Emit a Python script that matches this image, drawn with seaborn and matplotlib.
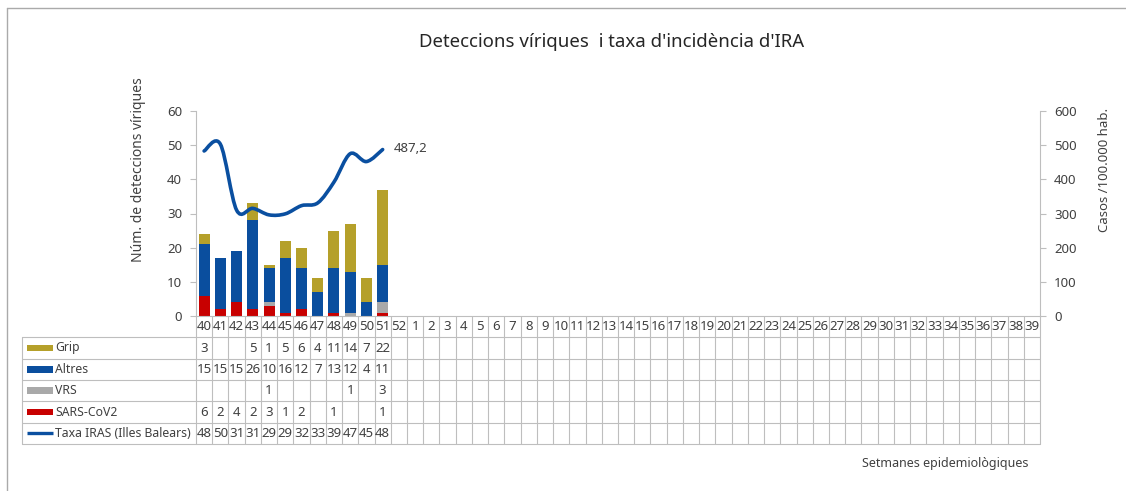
import numpy as np
import pandas as pd
import matplotlib
matplotlib.use("Agg")
import matplotlib.pyplot as plt
from matplotlib.path import Path
from matplotlib.patches import PathPatch, Rectangle
import seaborn as sns

# week axis: 40..52 then 1..39
weeks = [str(w) for w in list(range(40, 53)) + list(range(1, 40))]
data_weeks = ["40", "41", "42", "43", "44", "45", "46", "47", "48", "49", "50", "51"]

grip = [3, 0, 0, 5, 1, 5, 6, 4, 11, 14, 7, 22]
altres = [15, 15, 15, 26, 10, 16, 12, 7, 13, 12, 4, 11]
vrs = [0, 0, 0, 0, 1, 0, 0, 0, 0, 1, 0, 3]
sars = [6, 2, 4, 2, 3, 1, 2, 0, 1, 0, 0, 1]
taxa = [483, 503, 310, 315, 296, 299, 323, 331, 392, 475, 452, 487.2]

colors = {
    "Grip": "#B5A02A",
    "Altres": "#0A4E9E",
    "VRS": "#A9A9A9",
    "SARS-CoV2": "#C80000",
}
line_color = "#0A4FA0"
grid_color = "#BEBEBE"
text_color = "#404040"

W, H = 1126, 491


def fx(px):
    return px / W


def fy(py):
    return 1 - py / H


sns.set_theme(style="white")
plt.rcParams["font.family"] = ["Noto Sans", "DejaVu Sans"]

fig = plt.figure(figsize=(W / 100, H / 100), dpi=100)
fig.patch.set_facecolor("white")

# main plot area
ax = fig.add_axes([fx(196), fy(316), fx(1040) - fx(196), fy(111) - fy(316)])

df = pd.DataFrame({"week": data_weeks, "SARS-CoV2": sars, "VRS": vrs,
                   "Altres": altres, "Grip": grip})
layers = ["SARS-CoV2", "VRS", "Altres", "Grip"]
cum = df[layers].cumsum(axis=1)
for name in reversed(layers):
    sns.barplot(x=df["week"], y=cum[name], order=weeks, color=colors[name],
                width=0.68, saturation=1, linewidth=0, errorbar=None, ax=ax)

ax.set_xlim(-0.5, len(weeks) - 0.5)
ax.set_ylim(0, 60)
ax.set_yticks(range(0, 61, 10))
ax.set_xlabel("")
ax.set_ylabel("")
ax.tick_params(axis="x", length=0, labelbottom=False)
ax.tick_params(axis="y", direction="out", length=4, width=0.8, color=grid_color,
               labelcolor=text_color, labelsize=9.5, pad=6, left=True)
for s in ["top", "right"]:
    ax.spines[s].set_visible(False)
for s in ["left", "bottom"]:
    ax.spines[s].set_color(grid_color)
    ax.spines[s].set_linewidth(0.8)

# incidence rate on the right axis, smoothed like the spreadsheet line
ax2 = ax.twinx()
ax2.set_ylim(0, 600)
ax2.set_yticks(range(0, 601, 100))
pts = np.column_stack([np.arange(len(taxa)), np.array(taxa, dtype=float)])
n = len(pts)
verts = [pts[0]]
codes = [Path.MOVETO]
for i in range(n - 1):
    p0 = pts[max(i - 1, 0)]
    p1 = pts[i]
    p2 = pts[i + 1]
    p3 = pts[min(i + 2, n - 1)]
    verts += [p1 + (p2 - p0) / 6, p2 - (p3 - p1) / 6, p2]
    codes += [Path.CURVE4] * 3
ax2.add_patch(PathPatch(Path(verts, codes), facecolor="none", edgecolor=line_color,
                        lw=2.6, capstyle="round", joinstyle="round"))
ax2.annotate(f"{taxa[-1]:.1f}".replace(".", ","), xy=(n - 1, taxa[-1]),
             xytext=(8, 1), textcoords="offset points", va="center", ha="left",
             fontsize=9.5, color=text_color)
ax2.tick_params(axis="y", direction="out", length=4, width=0.8, color=grid_color,
                labelcolor=text_color, labelsize=9.5, pad=6, right=True)
for s in ["top", "left", "bottom"]:
    ax2.spines[s].set_visible(False)
ax2.spines["right"].set_color(grid_color)
ax2.spines["right"].set_linewidth(0.8)
ax2.grid(False)
ax.grid(False)

# data table: grid part under the weeks
tab = fig.add_axes([fx(196), fy(444), fx(1040) - fx(196), fy(316) - fy(444)])
tab.set_xlim(-0.5, len(weeks) - 0.5)
tab.set_ylim(6, 0)
tab.axis("off")
for k in range(len(weeks) + 1):
    tab.plot([k - 0.5, k - 0.5], [0, 6], color=grid_color, lw=0.8, clip_on=False)
for r in range(1, 7):
    tab.plot([-0.5, len(weeks) - 0.5], [r, r], color=grid_color, lw=0.8, clip_on=False)
for i, w in enumerate(weeks):
    tab.text(i, 0.5, w, ha="center", va="center", fontsize=9.5, color=text_color)

rows = [grip, altres, vrs, sars]
for r, vals in enumerate(rows, start=1):
    for i, v in enumerate(vals):
        if v:
            tab.text(i, r + 0.5, str(v), ha="center", va="center", fontsize=9.5,
                     color=text_color)
for i, v in enumerate(taxa):
    tab.text(i, 5.5, str(int(v))[:2], ha="center", va="center", fontsize=9.5,
             color=text_color)

# data table: legend column
lab = fig.add_axes([fx(22), fy(444), fx(196) - fx(22), fy(316) - fy(444)])
lab.set_xlim(0, 174)
lab.set_ylim(6, 0)
lab.axis("off")
lab.plot([0, 0], [1, 6], color=grid_color, lw=0.8, clip_on=False)
for r in range(1, 7):
    lab.plot([0, 174], [r, r], color=grid_color, lw=0.8, clip_on=False)
row_names = ["Grip", "Altres", "VRS", "SARS-CoV2"]
for r, name in enumerate(row_names, start=1):
    lab.add_patch(Rectangle((4.5, r + 0.5 - 0.15), 26, 0.3, color=colors[name], lw=0))
    lab.text(33, r + 0.5, name, ha="left", va="center", fontsize=8.8, color=text_color)
lab.plot([4.5, 30.5], [5.5, 5.5], color=line_color, lw=2.4, solid_capstyle="butt")
lab.text(33, 5.5, "Taxa IRAS (Illes Balears)", ha="left", va="center",
         fontsize=8.8, color=text_color)

# titles and axis labels
fig.text(fx(612), fy(42), "Deteccions víriques  i taxa d'incidència d'IRA",
         ha="center", va="center", fontsize=13.4, color="#262626")
fig.text(fx(138), fy(170), "Núm. de deteccions víriques", rotation=90,
         ha="center", va="center", fontsize=10, color=text_color)
fig.text(fx(1105), fy(170), "Casos /100.000 hab.", rotation=90,
         ha="center", va="center", fontsize=9.5, color=text_color)
fig.text(fx(1028), fy(463), "Setmanes epidemiològiques", ha="right", va="center",
         fontsize=9, color=text_color)

# outer chart border (top and left edges visible in the crop)
fig.add_artist(plt.Line2D([fx(7), 1], [fy(8), fy(8)], color="#AAAAAA", lw=1,
                          transform=fig.transFigure))
fig.add_artist(plt.Line2D([fx(7), fx(7)], [fy(8), 0], color="#AAAAAA", lw=1,
                          transform=fig.transFigure))

fig.savefig("out.png", dpi=100, facecolor="white")
